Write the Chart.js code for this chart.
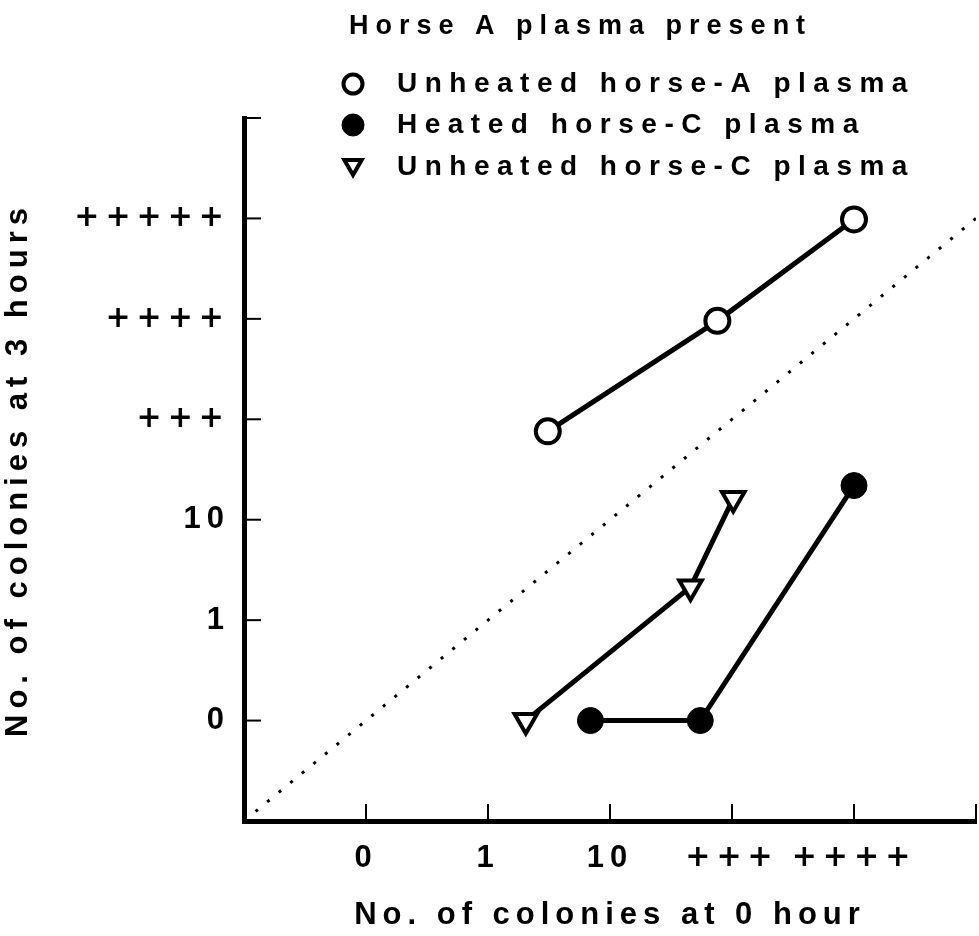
<!DOCTYPE html>
<html>
<head>
<meta charset="utf-8">
<script src="https://cdn.jsdelivr.net/npm/chart.js@4/dist/chart.umd.min.js"></script>
<style>
  html, body { margin: 0; padding: 0; background: #fff; }
  #wrap { width: 979px; height: 936px; }
</style>
</head>
<body>
<div id="wrap"><canvas id="chart" width="979" height="936"></canvas></div>
<script>
// category labels for the two ordinal axes (index -> label)
const xLabels = ['0', '1', '10', '+++', '++++'];
const yLabels = ['0', '1', '10', '+++', '++++', '+++++'];

// series (positions in category-index units)
const unheatedA_x = [1.49, 2.88, 4.0];
const unheatedA_y = [2.88, 3.98, 4.99];
const heatedC_x = [1.84, 2.74, 4.0];
const heatedC_y = [0, 0, 2.34];
const unheatedC_x = [1.31, 2.66, 3.01];
const unheatedC_y = [0, 1.33, 2.21];

// line of identity
const diag_x = [-1, 5];
const diag_y = [-1, 5];

const legendTitle = 'Horse A plasma present';

function pts(xs, ys) {
    return xs.map((x, i) => ({ x: x, y: ys[i] }));
}

const FAMILY = "'Liberation Sans', Arial, sans-serif";
Chart.defaults.font.family = FAMILY;
Chart.defaults.font.weight = 'bold';
Chart.defaults.color = '#000';

// plus-sign labels look better in the wider DejaVu glyphs
function tickFont(labels) {
    return c => {
        const lab = c.tick ? labels[c.tick.value] : undefined;
        if (lab && lab[0] === '+') return { family: "'DejaVu Sans', sans-serif", size: 30, weight: 'bold' };
        return { family: FAMILY, size: 31, weight: 'bold' };
    };
}

const spacing = {
    id: 'spacing',
    beforeLayout(chart) { chart.ctx.letterSpacing = '6px'; },
    beforeDraw(chart) { chart.ctx.letterSpacing = '6px'; }
};

// small tick marks pointing into the plot area
const innerTicks = {
    id: 'innerTicks',
    afterDraw(chart) {
        const ctx = chart.ctx;
        const xs = chart.scales.x, ys = chart.scales.y;
        const area = chart.chartArea;
        ctx.save();
        ctx.strokeStyle = '#000';
        ctx.lineWidth = 2;
        ys.ticks.forEach(t => {
            const py = ys.getPixelForValue(t.value);
            ctx.beginPath();
            ctx.moveTo(area.left, py);
            ctx.lineTo(area.left + 17, py);
            ctx.stroke();
        });
        xs.ticks.forEach(t => {
            const px = xs.getPixelForValue(t.value);
            ctx.beginPath();
            ctx.moveTo(px, area.bottom);
            ctx.lineTo(px, area.bottom - 17);
            ctx.stroke();
        });
        ctx.restore();
    }
};

// legend block in the top area
const topLegend = {
    id: 'topLegend',
    afterDraw(chart) {
        const ctx = chart.ctx;
        ctx.save();
        ctx.fillStyle = '#000';
        ctx.textAlign = 'left';
        ctx.textBaseline = 'middle';
        ctx.letterSpacing = '7px';
        ctx.font = "bold 27px " + FAMILY;
        ctx.fillText(legendTitle, 349, 27);
        ctx.letterSpacing = '7.5px';
        ctx.font = "bold 28px " + FAMILY;
        const rowY = [84, 125, 167];
        let row = 0;
        chart.data.datasets.forEach(ds => {
            if (!ds.inLegend) return;
            const y = rowY[row++];
            ctx.lineWidth = ds.pointBorderWidth;
            ctx.strokeStyle = ds.pointBorderColor;
            ctx.fillStyle = ds.pointBackgroundColor;
            Chart.helpers.drawPoint(ctx, {
                pointStyle: ds.pointStyle,
                radius: ds.legendRadius,
                rotation: ds.pointRotation || 0,
                borderWidth: ds.pointBorderWidth
            }, 353, ds.pointStyle === 'triangle' ? y - 2 : y);
            ctx.fillStyle = '#000';
            ctx.fillText(ds.label, 397, y);
        });
        ctx.restore();
    }
};

new Chart(document.getElementById('chart'), {
    type: 'scatter',
    data: {
        datasets: [
            {
                label: 'Unheated horse-A plasma',
                inLegend: true,
                data: pts(unheatedA_x, unheatedA_y),
                showLine: true,
                borderColor: '#000',
                borderWidth: 5,
                pointStyle: 'circle',
                pointRadius: 12,
                legendRadius: 9.5,
                pointBorderWidth: 4,
                pointBorderColor: '#000',
                pointBackgroundColor: '#fff'
            },
            {
                label: 'Heated horse-C plasma',
                inLegend: true,
                data: pts(heatedC_x, heatedC_y),
                showLine: true,
                borderColor: '#000',
                borderWidth: 5,
                pointStyle: 'circle',
                pointRadius: 13,
                legendRadius: 11,
                pointBorderWidth: 1,
                pointBorderColor: '#000',
                pointBackgroundColor: '#000'
            },
            {
                label: 'Unheated horse-C plasma',
                inLegend: true,
                data: pts(unheatedC_x, unheatedC_y),
                showLine: true,
                borderColor: '#000',
                borderWidth: 5,
                pointStyle: 'triangle',
                pointRotation: 180,
                pointRadius: 13,
                legendRadius: 10,
                pointBorderWidth: 4,
                pointBorderColor: '#000',
                pointBackgroundColor: '#fff'
            },
            {
                label: 'identity',
                data: pts(diag_x, diag_y),
                showLine: true,
                borderColor: '#000',
                borderWidth: 3,
                borderDash: [3, 12],
                pointRadius: 0
            }
        ]
    },
    options: {
        responsive: false,
        animation: false,
        events: [],
        layout: { autoPadding: false, padding: { top: 118, right: 3, left: 0, bottom: 0 } },
        plugins: {
            legend: { display: false },
            tooltip: { enabled: false }
        },
        scales: {
            x: {
                type: 'linear',
                min: -1,
                max: 5,
                grid: { display: false },
                border: { display: true, color: '#000', width: 5 },
                ticks: {
                    stepSize: 1,
                    padding: 11,
                    autoSkip: false,
                    font: tickFont(xLabels),
                    color: '#000',
                    maxRotation: 0,
                    callback: v => xLabels[v] !== undefined ? xLabels[v] : ''
                },
                title: {
                    display: true,
                    text: 'No. of colonies at 0 hour',
                    font: { size: 31, weight: 'bold' },
                    color: '#000',
                    padding: { top: 0, bottom: 2 }
                },
                afterFit: s => {
                    s.height = 115;
                    s.paddingLeft = 0;
                    s.paddingRight = 0;
                }
            },
            y: {
                type: 'linear',
                min: -1,
                max: 6,
                grid: { display: false },
                border: { display: true, color: '#000', width: 5 },
                ticks: {
                    stepSize: 1,
                    padding: 6,
                    autoSkip: false,
                    font: tickFont(yLabels),
                    color: '#000',
                    callback: v => yLabels[v] !== undefined ? yLabels[v] : ''
                },
                title: {
                    display: true,
                    text: 'No. of colonies at 3 hours',
                    font: { size: 31, weight: 'bold' },
                    color: '#000',
                    padding: { top: 0, bottom: 0 }
                },
                afterFit: s => {
                    s.width = 244;
                    s.paddingTop = 0;
                    s.paddingBottom = 0;
                }
            }
        }
    },
    plugins: [spacing, innerTicks, topLegend]
});
</script>
</body>
</html>
